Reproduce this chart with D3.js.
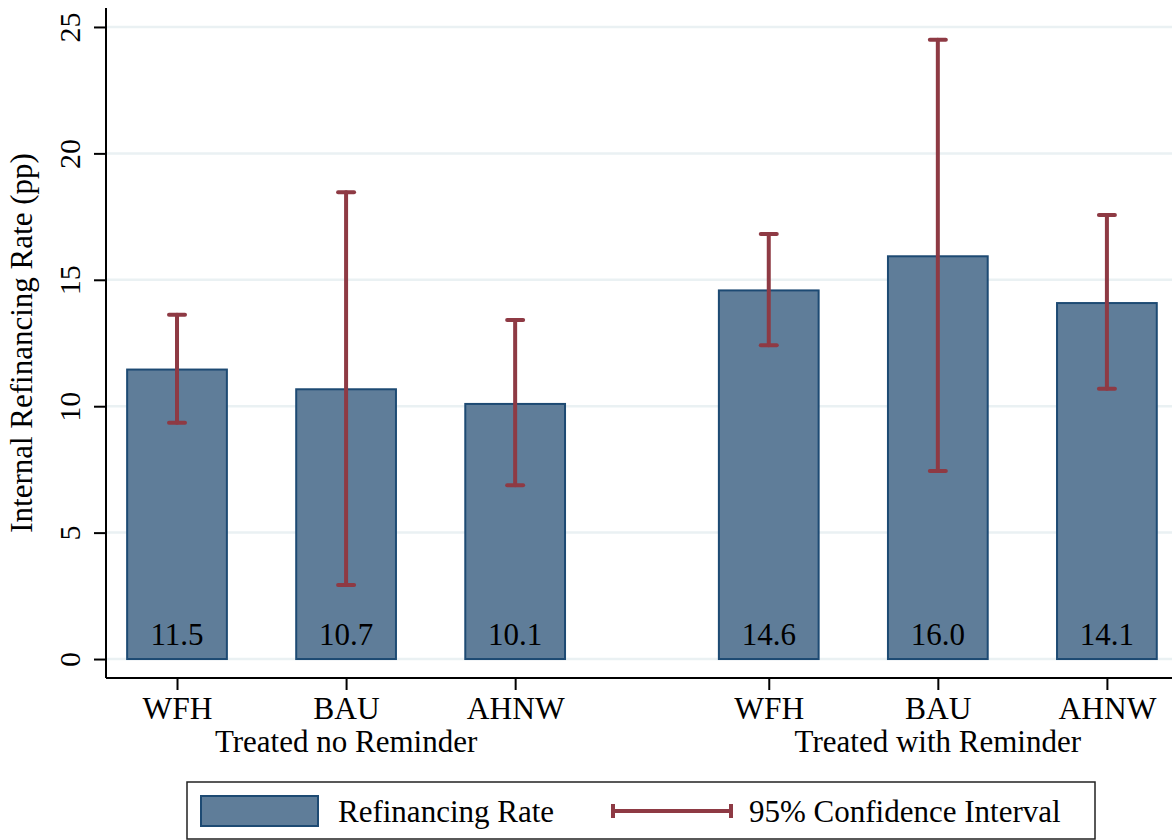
<!DOCTYPE html>
<html>
<head>
<meta charset="utf-8">
<script src="https://cdn.jsdelivr.net/npm/d3@7"></script>
<style>
  body { margin: 0; background: #fff; }
  svg { display: block; font-family: "Liberation Serif", "Times New Roman", serif; }
</style>
</head>
<body>
<div id="chart"></div>
<script>
// data
var groups = ["Treated no Reminder", "Treated with Reminder"];
var categories = ["WFH", "BAU", "AHNW"];
var rates = [11.45, 10.67, 10.09, 14.58, 15.93, 14.08];
var labels = ["11.5", "10.7", "10.1", "14.6", "16.0", "14.1"];
var ciLow = [9.35, 2.93, 6.87, 12.41, 7.44, 10.69];
var ciHigh = [13.62, 18.46, 13.41, 16.81, 24.49, 17.56];
var yTicks = [0, 5, 10, 15, 20, 25];

var width = 1172, height = 840;
var margin = { top: 8, right: 0, bottom: 162, left: 106 };
var innerWidth = width - margin.left - margin.right,
    innerHeight = height - margin.top - margin.bottom;

var barColor = "#5f7d99", barStroke = "#1d4a73", ciColor = "#8e3a44", gridColor = "#eaf1f3";

// one row per bar, slot position leaves a half gap between the groups
var rows = rates.map(function(v, i) {
    var g = Math.floor(i / categories.length);
    return {
        value: v, label: labels[i], lo: ciLow[i], hi: ciHigh[i],
        cat: categories[i % categories.length], group: g,
        slot: i + g * 0.5
    };
});

var xScale = d3.scaleLinear().domain([-0.42, 5.885]).range([0, innerWidth]);
var yScale = d3.scaleLinear().domain([-0.75, 25.75]).range([innerHeight, 0]);
var barW = xScale(0.59) - xScale(0);

var svg = d3.select("#chart").append("svg")
    .attr("width", width)
    .attr("height", height);

var g = svg.append("g")
    .attr("transform", "translate(" + margin.left + "," + margin.top + ")");

// gridlines
g.append("g").selectAll("line")
    .data(yTicks)
    .enter().append("line")
    .attr("x1", 0).attr("x2", innerWidth)
    .attr("y1", function(d) { return yScale(d); })
    .attr("y2", function(d) { return yScale(d); })
    .attr("stroke", gridColor)
    .attr("stroke-width", 2.5);

// bars
g.append("g").selectAll("rect")
    .data(rows)
    .enter().append("rect")
    .attr("x", function(d) { return xScale(d.slot) - barW / 2; })
    .attr("y", function(d) { return yScale(d.value); })
    .attr("width", barW)
    .attr("height", function(d) { return yScale(0) - yScale(d.value); })
    .attr("fill", barColor)
    .attr("stroke", barStroke)
    .attr("stroke-width", 2);

// confidence intervals
var ci = g.append("g").selectAll("g")
    .data(rows)
    .enter().append("g")
    .attr("stroke", ciColor)
    .attr("stroke-width", 4)
    .attr("stroke-linecap", "round");
ci.append("line")
    .attr("x1", function(d) { return xScale(d.slot); })
    .attr("x2", function(d) { return xScale(d.slot); })
    .attr("y1", function(d) { return yScale(d.lo); })
    .attr("y2", function(d) { return yScale(d.hi); });
["lo", "hi"].forEach(function(k) {
    ci.append("line")
        .attr("x1", function(d) { return xScale(d.slot) - 8; })
        .attr("x2", function(d) { return xScale(d.slot) + 8; })
        .attr("y1", function(d) { return yScale(d[k]); })
        .attr("y2", function(d) { return yScale(d[k]); });
});

// value labels inside bars
g.append("g").selectAll("text")
    .data(rows)
    .enter().append("text")
    .attr("x", function(d) { return xScale(d.slot); })
    .attr("y", yScale(0) - 14)
    .attr("text-anchor", "middle")
    .style("font-size", "31px")
    .text(function(d) { return d.label; });

// y axis
var yAxis = g.append("g")
    .call(d3.axisLeft(yScale).tickValues(yTicks).tickSize(12).tickPadding(0).tickSizeOuter(0));
yAxis.select(".domain").attr("stroke", "#000").attr("stroke-width", 2)
    .attr("d", "M0,0V" + innerHeight);
yAxis.selectAll(".tick line").attr("stroke-width", 2);
yAxis.selectAll(".tick text")
    .attr("x", null).attr("dy", null)
    .attr("transform", "translate(-26,0) rotate(-90)")
    .attr("text-anchor", "middle")
    .style("font-family", "Liberation Serif, serif")
    .style("font-size", "30px")
    .attr("fill", "#000");

// x axis
var xAxis = g.append("g")
    .attr("transform", "translate(0," + innerHeight + ")")
    .call(d3.axisBottom(xScale)
        .tickValues(rows.map(function(d) { return d.slot; }))
        .tickFormat(function(s) { return rows.find(function(d) { return d.slot === s; }).cat; })
        .tickSize(12).tickSizeOuter(0).tickPadding(0));
xAxis.select(".domain").attr("stroke", "#000").attr("stroke-width", 2)
    .attr("d", "M0,0H" + innerWidth);
xAxis.selectAll(".tick line").attr("stroke-width", 2);
xAxis.selectAll(".tick text")
    .attr("y", 41).attr("dy", null)
    .style("font-family", "Liberation Serif, serif")
    .style("font-size", "31.5px")
    .attr("fill", "#000");

// group labels
g.append("g").selectAll("text")
    .data(groups)
    .enter().append("text")
    .attr("x", function(d, i) { return xScale(i * 3.5 + 1); })
    .attr("y", innerHeight + 74)
    .attr("text-anchor", "middle")
    .style("font-size", "31px")
    .text(function(d) { return d; });

// y label
svg.append("text")
    .attr("transform", "translate(32," + (margin.top + innerHeight / 2) + ") rotate(-90)")
    .attr("text-anchor", "middle")
    .style("font-size", "31px")
    .text("Internal Refinancing Rate (pp)");

// legend
var legend = svg.append("g").attr("transform", "translate(187,782)");
legend.append("rect")
    .attr("width", 908).attr("height", 57)
    .attr("fill", "#fff")
    .attr("stroke", "#222")
    .attr("stroke-width", 1.5);
legend.append("rect")
    .attr("x", 14).attr("y", 14)
    .attr("width", 117).attr("height", 30)
    .attr("fill", barColor)
    .attr("stroke", barStroke)
    .attr("stroke-width", 2);
legend.append("text")
    .attr("x", 151).attr("y", 40)
    .style("font-size", "31px")
    .text("Refinancing Rate");
var lci = legend.append("g").attr("stroke", ciColor).attr("stroke-width", 4);
lci.append("line").attr("x1", 426).attr("x2", 545).attr("y1", 29).attr("y2", 29);
lci.append("line").attr("x1", 426).attr("x2", 426).attr("y1", 22).attr("y2", 36);
lci.append("line").attr("x1", 544).attr("x2", 544).attr("y1", 22).attr("y2", 36);
legend.append("text")
    .attr("x", 562).attr("y", 40)
    .style("font-size", "31px")
    .text("95% Confidence Interval");
</script>
</body>
</html>
